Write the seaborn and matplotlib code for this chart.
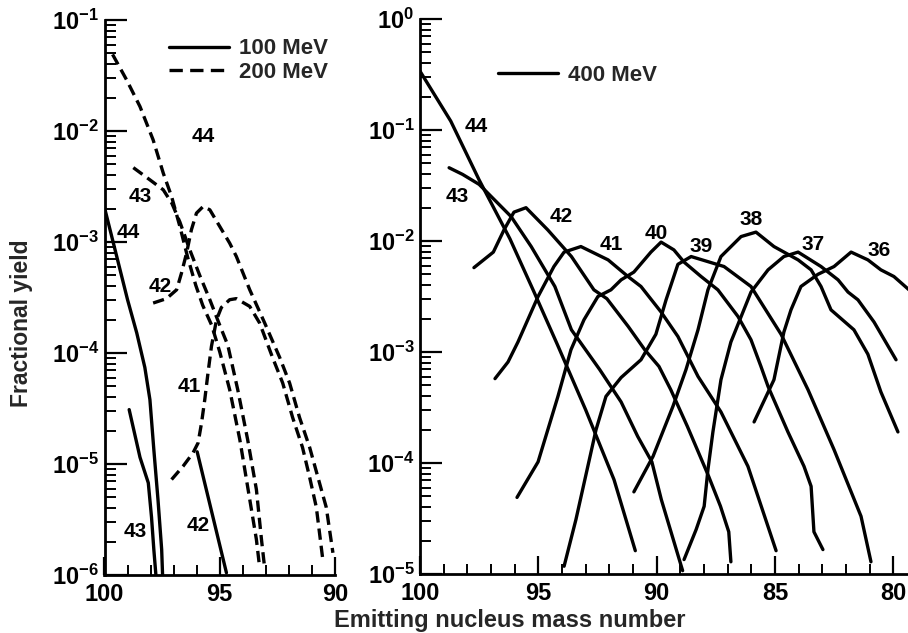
import numpy as np
import pandas as pd
import matplotlib
matplotlib.use("Agg")
import matplotlib.pyplot as plt
from matplotlib.lines import Line2D
from matplotlib.ticker import MultipleLocator, LogLocator, FuncFormatter, NullFormatter
import seaborn as sns

# ---------------------------------------------------------------------------
# Fractional yields (log10) versus emitting nucleus mass number.
# Left panel: 100 MeV (solid) and 200 MeV (dashed); right panel: 400 MeV.
# Each curve is labelled by the fragment number written next to it.
# ---------------------------------------------------------------------------

# 100 MeV
mass_100_44 = [100.0, 99.0, 98.6, 98.25, 98.03, 97.86, 97.68, 97.52, 97.48]
logy_100_44 = [-2.69, -3.52, -3.82, -4.13, -4.42, -4.87, -5.32, -5.77, -6.0]
mass_100_43 = [98.93, 98.46, 98.10, 97.96, 97.86, 97.77]
logy_100_43 = [-4.51, -4.94, -5.17, -5.48, -5.77, -6.0]
mass_100_42 = [95.98, 94.71]
logy_100_42 = [-4.89, -5.98]

# 200 MeV
mass_200_44 = [99.65, 99.04, 98.46, 97.89, 97.45, 97.09, 96.73, 96.39, 96.04,
               95.74, 95.35, 95.0, 94.57, 94.13, 93.77, 93.41, 93.27]
logy_200_44 = [-1.31, -1.54, -1.78, -2.08, -2.38, -2.59, -2.86, -3.14, -3.39,
               -3.57, -3.75, -3.99, -4.33, -4.78, -5.23, -5.68, -5.93]
mass_200_43 = [98.75, 98.03, 97.45, 97.08, 96.73, 96.30, 95.87, 95.43, 95.0,
               94.65, 94.22, 93.79, 93.41, 93.19, 93.05]
logy_200_43 = [-2.33, -2.44, -2.53, -2.65, -2.82, -3.07, -3.30, -3.52, -3.75,
               -3.93, -4.33, -4.78, -5.23, -5.68, -5.94]
mass_200_42 = [97.89, 97.31, 96.87, 96.66, 96.44, 96.23, 96.01, 95.72, 95.43,
               95.0, 94.57, 94.28, 93.99, 93.70, 93.05, 92.40, 91.97, 91.54,
               91.10, 90.74, 90.38, 90.09]
logy_200_42 = [-3.55, -3.51, -3.43, -3.28, -3.10, -2.89, -2.74, -2.68, -2.71,
               -2.86, -3.01, -3.13, -3.28, -3.43, -3.73, -4.04, -4.27, -4.58,
               -4.85, -5.12, -5.39, -5.80]
mass_200_41 = [97.09, 96.59, 96.16, 95.94, 95.79, 95.65, 95.51, 95.36, 95.14,
               94.93, 94.57, 94.28, 93.70, 93.27, 92.71, 92.27, 91.84, 91.41,
               91.10, 90.81, 90.53]
logy_200_41 = [-5.14, -5.02, -4.90, -4.81, -4.63, -4.42, -4.18, -3.94, -3.70,
               -3.59, -3.52, -3.51, -3.58, -3.73, -4.04, -4.27, -4.58, -4.85,
               -5.12, -5.39, -5.86]

# 400 MeV
mass_400_44 = [100.0, 98.7, 97.5, 96.2, 95.2, 94.2, 93.0, 91.8, 90.9]
logy_400_44 = [-0.47, -0.92, -1.45, -1.98, -2.45, -2.93, -3.52, -4.15, -4.79]
mass_400_43 = [98.77, 98.2, 97.5, 96.15, 95.3, 94.3, 93.6, 92.4, 91.5, 90.8,
               90.2, 89.8, 88.9]
logy_400_43 = [-1.34, -1.40, -1.49, -1.78, -2.05, -2.41, -2.80, -3.16, -3.45,
               -3.76, -3.99, -4.33, -4.97]
mass_400_42 = [97.72, 96.9, 96.45, 96.03, 95.52, 94.6, 93.6, 92.65, 92.1, 91.2,
               90.5, 89.9, 89.4, 88.7, 87.8, 87.3, 86.95, 86.86]
logy_400_42 = [-2.24, -2.10, -1.90, -1.74, -1.70, -1.90, -2.14, -2.44, -2.52,
               -2.77, -2.98, -3.13, -3.34, -3.67, -4.12, -4.39, -4.62, -4.89]
mass_400_41 = [96.83, 96.28, 95.86, 95.01, 94.34, 93.91, 93.20, 92.05, 91.21,
               90.66, 89.81, 89.10, 88.25, 87.28, 86.14, 84.95]
logy_400_41 = [-3.24, -3.09, -2.91, -2.50, -2.23, -2.10, -2.05, -2.17, -2.32,
               -2.41, -2.64, -2.86, -3.22, -3.54, -4.03, -4.79]
mass_400_40 = [95.90, 95.01, 94.17, 93.62, 93.07, 92.48, 91.93, 91.50, 90.96,
               90.24, 89.81, 89.27, 88.84, 88.12, 87.41, 86.56, 86.01, 85.59,
               85.29, 84.45, 83.77, 83.47, 83.35, 82.97]
logy_400_40 = [-4.31, -3.99, -3.40, -2.98, -2.71, -2.50, -2.44, -2.35, -2.28,
               -2.10, -2.01, -2.08, -2.19, -2.32, -2.44, -2.68, -2.89, -3.13,
               -3.31, -3.72, -4.03, -4.21, -4.62, -4.78]
mass_400_39 = [93.91, 93.41, 92.98, 92.56, 92.14, 91.50, 90.66, 90.03, 89.60,
               89.10, 88.54, 87.15, 86.01, 84.74, 83.60, 82.50, 81.36, 80.94]
logy_400_39 = [-4.93, -4.51, -4.10, -3.70, -3.40, -3.23, -3.07, -2.84, -2.53,
               -2.21, -2.14, -2.23, -2.41, -2.84, -3.34, -3.88, -4.48, -4.89]
mass_400_38 = [90.96, 90.15, 89.31, 88.76, 88.25, 87.83, 87.28, 86.43, 85.80,
               85.04, 84.02, 83.47, 83.05, 82.63, 81.66, 81.07, 80.52, 79.80]
logy_400_38 = [-4.26, -3.94, -3.49, -3.16, -2.80, -2.44, -2.14, -1.96, -1.92,
               -2.05, -2.17, -2.26, -2.41, -2.62, -2.80, -3.02, -3.36, -3.72]
mass_400_37 = [88.84, 88.33, 87.99, 87.83, 87.62, 87.28, 86.86, 86.01, 85.29,
               84.62, 84.02, 83.05, 82.33, 81.91, 81.49, 80.81, 79.88]
logy_400_37 = [-4.87, -4.60, -4.39, -4.06, -3.72, -3.25, -2.91, -2.46, -2.26,
               -2.14, -2.10, -2.23, -2.35, -2.46, -2.53, -2.73, -3.07]
mass_400_36 = [85.88, 85.04, 84.62, 84.32, 83.90, 83.18, 82.50, 81.78, 81.07,
               80.52, 79.97, 79.33]
logy_400_36 = [-3.63, -3.25, -2.82, -2.62, -2.41, -2.30, -2.23, -2.10, -2.17,
               -2.26, -2.32, -2.44]

energies_left = ["100 MeV", "200 MeV"]
energies_right = ["400 MeV"]

# Fragment labels and where they are written (mass number, log10 yield)
label_text_left = ["44", "43", "44", "42", "41", "42", "43"]
label_mass_left = [95.73, 98.46, 98.97, 97.60, 96.30, 95.94, 98.68]
label_logy_left = [-2.05, -2.59, -2.91, -3.40, -4.30, -5.55, -5.61]

label_text_right = ["44", "43", "42", "41", "40", "39", "38", "37", "36"]
label_mass_right = [97.63, 98.41, 94.04, 91.93, 90.03, 88.12, 86.01, 83.40, 80.59]
label_logy_right = [-0.97, -1.60, -1.78, -2.03, -1.93, -2.05, -1.81, -2.03, -2.09]

# ---------------------------------------------------------------------------
curve_table = [
    ("left", "100 MeV", "44", mass_100_44, logy_100_44),
    ("left", "100 MeV", "43", mass_100_43, logy_100_43),
    ("left", "100 MeV", "42", mass_100_42, logy_100_42),
    ("left", "200 MeV", "44", mass_200_44, logy_200_44),
    ("left", "200 MeV", "43", mass_200_43, logy_200_43),
    ("left", "200 MeV", "42", mass_200_42, logy_200_42),
    ("left", "200 MeV", "41", mass_200_41, logy_200_41),
    ("right", "400 MeV", "44", mass_400_44, logy_400_44),
    ("right", "400 MeV", "43", mass_400_43, logy_400_43),
    ("right", "400 MeV", "42", mass_400_42, logy_400_42),
    ("right", "400 MeV", "41", mass_400_41, logy_400_41),
    ("right", "400 MeV", "40", mass_400_40, logy_400_40),
    ("right", "400 MeV", "39", mass_400_39, logy_400_39),
    ("right", "400 MeV", "38", mass_400_38, logy_400_38),
    ("right", "400 MeV", "37", mass_400_37, logy_400_37),
    ("right", "400 MeV", "36", mass_400_36, logy_400_36),
]
rows = []
for panel, energy, frag, masses, logys in curve_table:
    for i, (m, ly) in enumerate(zip(masses, logys)):
        rows.append({"panel": panel, "energy": energy,
                     "curve": f"{energy} {frag}", "order": i,
                     "mass": m, "yield": 10.0 ** ly})
df = pd.DataFrame(rows)

# ---------------------------------------------------------------------------
sns.set_theme(style="ticks")
plt.rcParams["font.family"] = ["Liberation Sans", "DejaVu Sans"]
plt.rcParams["font.weight"] = "bold"
plt.rcParams["mathtext.fontset"] = "custom"
plt.rcParams["mathtext.rm"] = "Liberation Sans:bold"
plt.rcParams["mathtext.it"] = "Liberation Sans:bold"
plt.rcParams["mathtext.bf"] = "Liberation Sans:bold"
plt.rcParams["mathtext.default"] = "rm"

W, H = 908, 633
fig = plt.figure(figsize=(W / 100, H / 100), dpi=100)
fig.patch.set_facecolor("white")

ax_l = fig.add_axes([104.5 / W, 58 / H, 230.5 / W, 555 / H])
ax_r = fig.add_axes([420 / W, 59 / H, 488 / W, 555 / H])

DASH = (3.4, 1.8)
LW = 2.4
dash_map = {"100 MeV": "", "200 MeV": DASH, "400 MeV": ""}


def draw_panel(ax, data, energies):
    sns.lineplot(data=data, x="mass", y="yield", units="curve",
                 estimator=None, sort=False, style="energy",
                 style_order=energies,
                 dashes={e: dash_map[e] for e in energies},
                 color="black", linewidth=LW, legend=False, ax=ax)
    for ln in ax.get_lines():
        ln.set_solid_capstyle("round")
        ln.set_solid_joinstyle("round")
        ln.set_dash_capstyle("butt")
    ax.set_yscale("log")
    ax.set_xlabel("")
    ax.set_ylabel("")
    sns.despine(ax=ax)
    for s in ("left", "bottom"):
        ax.spines[s].set_linewidth(2.0)
        ax.spines[s].set_color("black")
    ax.xaxis.set_major_locator(MultipleLocator(5))
    ax.xaxis.set_minor_locator(MultipleLocator(1))
    ax.yaxis.set_major_locator(LogLocator(base=10, numticks=12))
    ax.yaxis.set_minor_locator(LogLocator(base=10, subs=np.arange(2, 10), numticks=12))
    ax.yaxis.set_minor_formatter(NullFormatter())
    ax.yaxis.set_major_formatter(
        FuncFormatter(lambda v, p: r"$10^{%d}$" % int(round(np.log10(v)))))
    ax.tick_params(axis="y", which="major", direction="in", length=16,
                   width=1.6, labelsize=17, pad=4, colors="black")
    ax.tick_params(axis="y", which="minor", direction="in", length=8,
                   width=1.4, colors="black")
    ax.tick_params(axis="x", which="major", direction="in", length=13,
                   width=1.6, labelsize=17, pad=6, colors="black")
    ax.tick_params(axis="x", which="minor", direction="in", length=7,
                   width=1.4, colors="black")
    for t in ax.get_xticklabels() + ax.get_yticklabels():
        t.set_fontweight("bold")
    ax.set_facecolor("white")
    ax.grid(False)


left_df = df[df["panel"] == "left"]
right_df = df[df["panel"] == "right"]
draw_panel(ax_l, left_df, energies_left)
draw_panel(ax_r, right_df, energies_right)

ax_l.set_xlim(100, 90)
ax_l.set_ylim(1e-6, 1e-1)
ax_r.set_xlim(100, 100 - 488 / 23.66)
ax_r.set_ylim(1e-5, 1e0)

for txt, m, ly in zip(label_text_left, label_mass_left, label_logy_left):
    ax_l.text(m, 10.0 ** ly, txt, ha="center", va="center",
              fontsize=15, fontweight="bold", color="black")
for txt, m, ly in zip(label_text_right, label_mass_right, label_logy_right):
    ax_r.text(m, 10.0 ** ly, txt, ha="center", va="center",
              fontsize=15, fontweight="bold", color="black")

# Legends
h_solid = Line2D([], [], color="black", linewidth=LW)
h_dash = Line2D([], [], color="black", linewidth=LW, dashes=(4.0, 2.2))
ax_l.legend([h_solid, h_dash], energies_left, loc="upper left",
            bbox_to_anchor=(0.28, 0.967), frameon=False,
            prop={"size": 16, "weight": "bold"}, handlelength=2.7,
            handletextpad=0.45, labelspacing=0.12, borderpad=0,
            borderaxespad=0)
ax_r.legend([Line2D([], [], color="black", linewidth=LW)], energies_right,
            loc="upper left", bbox_to_anchor=(0.16, 0.917), frameon=False,
            prop={"size": 16, "weight": "bold"}, handlelength=2.7,
            handletextpad=0.45, borderpad=0, borderaxespad=0)

fig.text(510 / W, 1 - 620 / H, "Emitting nucleus mass number",
         ha="center", va="center", fontsize=17, fontweight="bold")
fig.text(22 / W, 1 - 323 / H, "Fractional yield", rotation=90,
         ha="center", va="center", fontsize=16.5, fontweight="bold")

fig.savefig("out.png", dpi=100, facecolor="white")
